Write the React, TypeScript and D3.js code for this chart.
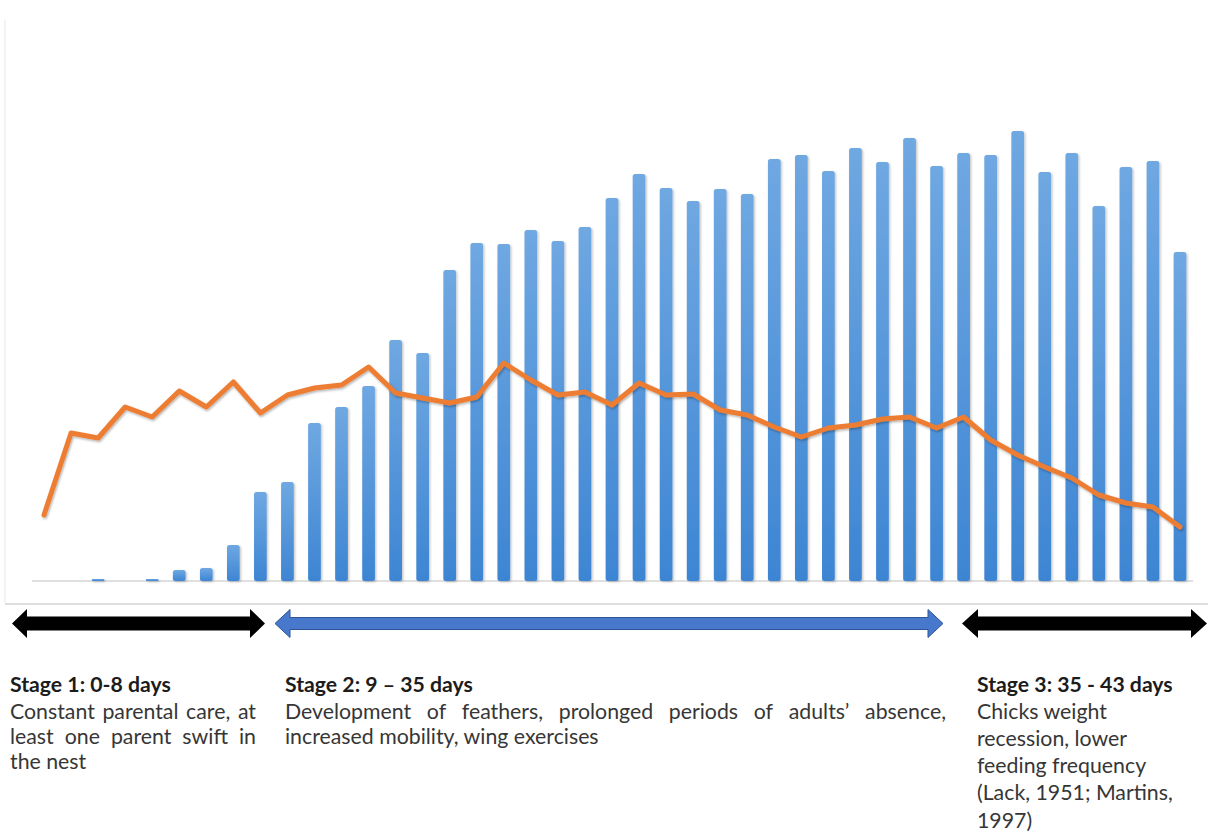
import React, { useEffect, useRef } from 'react';
import * as d3 from 'd3';

// ---- data ----
const days = [0,1,2,3,4,5,6,7,8,9,10,11,12,13,14,15,16,17,18,19,20,21,22,23,24,25,26,27,28,29,30,31,32,33,34,35,36,37,38,39,40,41,42];
const barValues = [0,0,2,0,2,11,13,36,89,99,158,174,195,241,228,311,338,337,351,340,354,383,407,393,380,392,387,422,426,410,433,419,443,415,428,426,450,409,428,375,414,420,329];
const lineValues = [66,148,143,174,164,190,174,199,168,186,193,196,214,188,183,178,184,218,201,186,189,176,198,186,187,171,166,154,144,153,156,162,164,153,164,141,126,114,103,86,78,74,54];

const stageTitles = ['Stage 1: 0-8 days', 'Stage 2: 9 \u2013 35 days', 'Stage 3: 35 - 43 days'];
const stage1Lines = ['Constant parental care, at', 'least one parent swift in', 'the nest'];
const stage2Lines = ['Development of feathers, prolonged periods of adults\u2019 absence,', 'increased mobility, wing exercises'];
const stage3Lines = ['Chicks weight', 'recession, lower', 'feeding frequency', '(Lack, 1951; Martins,', '1997)'];

const FONT = "Lato, 'Open Sans', 'DejaVu Sans', sans-serif";

export default function App() {
  const ref = useRef<SVGSVGElement>(null);

  useEffect(() => {
    const draw = () => {
      if (!ref.current) return;
      const svg = d3.select(ref.current);
      svg.selectAll('*').remove();

      const defs = svg.append('defs');
      const grad = defs.append('linearGradient').attr('id', 'barGrad')
        .attr('x1', 0).attr('y1', 0).attr('x2', 0).attr('y2', 1);
      grad.append('stop').attr('offset', '0%').attr('stop-color', '#6fa8e2');
      grad.append('stop').attr('offset', '100%').attr('stop-color', '#3d85d3');
      const sh = defs.append('filter').attr('id', 'shadow')
        .attr('x', '-20%').attr('y', '-5%').attr('width', '160%').attr('height', '115%');
      sh.append('feDropShadow').attr('dx', 1.2).attr('dy', 1).attr('stdDeviation', 1)
        .attr('flood-color', '#000').attr('flood-opacity', 0.25);
      const lsh = defs.append('filter').attr('id', 'lshadow')
        .attr('x', '-5%').attr('y', '-20%').attr('width', '110%').attr('height', '140%');
      lsh.append('feDropShadow').attr('dx', 1).attr('dy', 1.5).attr('stdDeviation', 1.2)
        .attr('flood-color', '#000').attr('flood-opacity', 0.3);

      svg.append('rect').attr('width', 1208).attr('height', 836).attr('fill', '#ffffff');

      // chart frame (faint)
      svg.append('line').attr('x1', 5).attr('x2', 5).attr('y1', 20).attr('y2', 604)
        .attr('stroke', '#efefef').attr('stroke-width', 1.5);
      svg.append('line').attr('x1', 5).attr('x2', 1208).attr('y1', 604).attr('y2', 604)
        .attr('stroke', '#dedede').attr('stroke-width', 2);

      const x = d3.scalePoint<number>().domain(days).range([44, 1180]);
      const y = d3.scaleLinear().domain([0, 480]).range([581, 101]);
      const yLine = d3.scaleLinear().domain([0, 480]).range([581, 101]);
      const bw = x.step() * 0.47;

      // baseline
      svg.append('line').attr('x1', x(days[0])! - 12).attr('x2', x(days[days.length - 1])! + 13)
        .attr('y1', y(0)).attr('y2', y(0)).attr('stroke', '#d6d6d6').attr('stroke-width', 1.5);

      const data = days.map((d, i) => ({ day: d, bar: barValues[i], line: lineValues[i] }));

      svg.append('g').attr('filter', 'url(#shadow)')
        .selectAll('rect').data(data.filter(d => d.bar > 0)).join('rect')
        .attr('x', d => x(d.day)! - bw / 2)
        .attr('y', d => y(d.bar))
        .attr('width', bw)
        .attr('height', d => y(0) - y(d.bar))
        .attr('rx', d => Math.min(2.5, (y(0) - y(d.bar)) / 2))
        .attr('fill', 'url(#barGrad)');

      const lineGen = d3.line<any>().x(d => x(d.day)!).y(d => yLine(d.line));
      svg.append('path').datum(data).attr('d', lineGen)
        .attr('fill', 'none').attr('stroke', '#ed7d31').attr('stroke-width', 5)
        .attr('stroke-linejoin', 'round').attr('stroke-linecap', 'round')
        .attr('filter', 'url(#lshadow)');

      // stage arrows
      const arrow = (x1: number, x2: number, cy: number, hl: number, hh: number, sh2: number) => {
        const p = [
          [x1, cy], [x1 + hl, cy - hh], [x1 + hl, cy - sh2], [x2 - hl, cy - sh2], [x2 - hl, cy - hh],
          [x2, cy], [x2 - hl, cy + hh], [x2 - hl, cy + sh2], [x1 + hl, cy + sh2], [x1 + hl, cy + hh],
        ];
        return 'M' + p.map(q => q.join(',')).join('L') + 'Z';
      };
      svg.append('path').attr('d', arrow(12, 265, 623.5, 15, 14.5, 7)).attr('fill', '#000');
      svg.append('path').attr('d', arrow(275, 943, 623.5, 15, 14, 6))
        .attr('fill', '#4778cc').attr('stroke', '#2f5597').attr('stroke-width', 1);
      svg.append('path').attr('d', arrow(962, 1207, 623.5, 16, 14.5, 7)).attr('fill', '#000');

      // measure fonts
      const measure = (t: string, size: number, weight: string) => {
        const el = svg.append('text').attr('font-family', FONT).attr('font-size', size)
          .attr('font-weight', weight).text(t);
        const w = (el.node() as SVGTextElement).getComputedTextLength();
        el.remove();
        return w;
      };
      const bodyTargets: [string, number][] = [
        ['feeding frequency', 168], ['(Lack, 1951; Martins,', 196], ['Chicks weight', 129],
        ['recession, lower', 151], ['increased mobility, wing exercises', 317],
      ];
      const boldTargets: [string, number][] = [
        [stageTitles[0], 162], [stageTitles[1], 187], [stageTitles[2], 195],
      ];
      const fit = (targets: [string, number][], weight: string) =>
        20 * d3.mean(targets, ([t, w]) => w / measure(t, 20, weight))!;
      const bodySize = fit(bodyTargets, 'normal');
      const boldSize = fit(boldTargets, 'bold');

      const blocks = [
        { x: 10, width: 246, gap: 25, justify: true, lines: stage1Lines, title: stageTitles[0] },
        { x: 285, width: 661, gap: 25, justify: true, lines: stage2Lines, title: stageTitles[1] },
        { x: 977, width: 0, gap: 27.3, justify: false, lines: stage3Lines, title: stageTitles[2] },
      ];
      const titleY = 692;
      blocks.forEach(b => {
        svg.append('text').attr('x', b.x).attr('y', titleY)
          .attr('font-family', FONT).attr('font-size', boldSize).attr('font-weight', 'bold')
          .attr('fill', '#1c1c1c').text(b.title);
        b.lines.forEach((line, i) => {
          const ly = titleY + 26.5 + i * b.gap;
          const isLast = i === b.lines.length - 1;
          if (b.justify && !isLast) {
            const words = line.split(' ');
            const widths = words.map(w => measure(w, bodySize, 'normal'));
            const total = d3.sum(widths);
            const gap = (b.width - total) / (words.length - 1);
            let cx = b.x;
            const g = svg.append('text').attr('y', ly).attr('font-family', FONT)
              .attr('font-size', bodySize).attr('fill', '#363636');
            words.forEach((w, k) => {
              g.append('tspan').attr('x', cx).text(w);
              cx += widths[k] + gap;
            });
          } else {
            svg.append('text').attr('x', b.x).attr('y', ly)
              .attr('font-family', FONT).attr('font-size', bodySize)
              .attr('fill', '#363636').text(line);
          }
        });
      });
    };
    draw();
    if ((document as any).fonts && (document as any).fonts.ready) {
      (document as any).fonts.ready.then(draw);
    }
  }, []);

  return (
    <svg ref={ref} width={1208} height={836}
      style={{ position: 'absolute', left: 0, top: 0, display: 'block', background: '#fff' }} />
  );
}
